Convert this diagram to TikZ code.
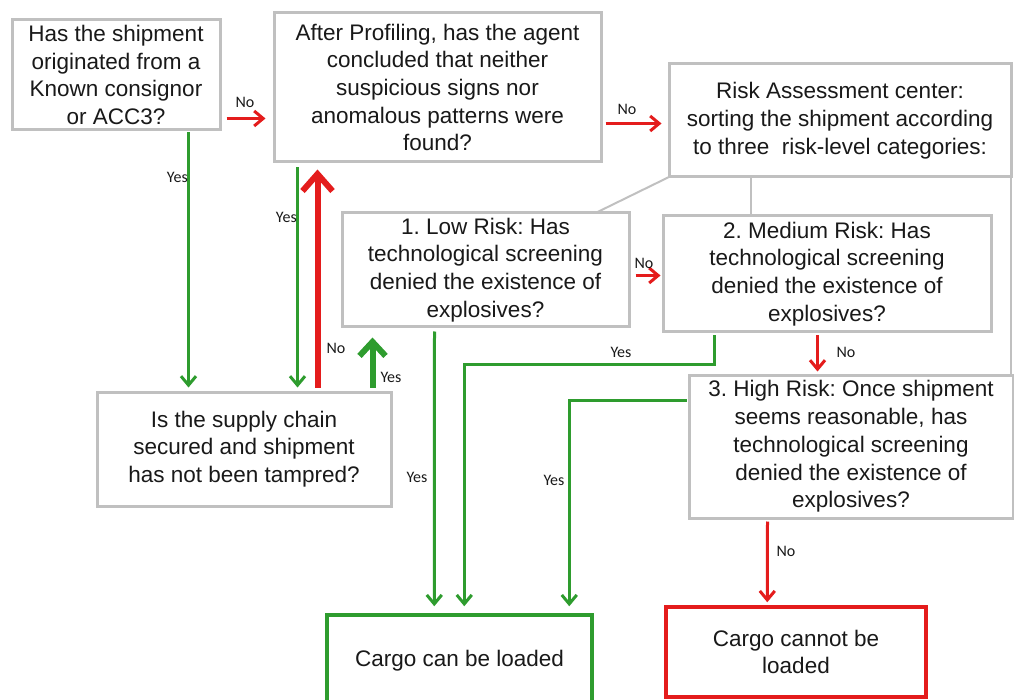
\documentclass[tikz,border=0pt]{standalone}
\usepackage{fontspec}
\setmainfont{Liberation Sans}
\newfontfamily\labfont{Carlito}
\usetikzlibrary{arrows.meta,calc}
\definecolor{boxgray}{RGB}{192,192,192}
\definecolor{flowgreen}{RGB}{46,156,46}
\definecolor{flowred}{RGB}{228,28,28}
\definecolor{txtcol}{RGB}{25,25,25}
\frenchspacing
\begin{document}
\begin{tikzpicture}[x=1pt,y=-1pt,
  box/.style={draw=boxgray, line width=3pt, fill=white, align=center,
    font=\fontsize{22.5}{27.7}\selectfont, text=txtcol, inner sep=0pt},
  endgreen/.style={box, draw=flowgreen, line width=3.5pt},
  endred/.style={box, draw=flowred, line width=3.5pt},
  lab/.style={font=\labfont\fontsize{16}{16}\selectfont, text=txtcol, inner sep=0pt},
  gthin/.style={draw=flowgreen, line width=3pt, -{Straight Barb[length=9pt,width=15pt,line width=3pt]}},
  rthin/.style={draw=flowred, line width=3pt, -{Straight Barb[length=9pt,width=15pt,line width=3pt]}},
  gthick/.style={draw=flowgreen, line width=6pt, -{Straight Barb[length=14pt,width=26pt,line width=6pt]}},
  rthick/.style={draw=flowred, line width=6pt, -{Straight Barb[length=17pt,width=30pt,line width=6pt]}},
  grayline/.style={draw=boxgray, line width=2pt}
]
\useasboundingbox (0,0) rectangle (1014,700);

\node[box, minimum width=342pt, minimum height=113pt] (C) at (840,120.5)
  {Risk Assessment center:\\sorting the shipment according\\to three\ \ risk-level categories:};
\node[box, minimum width=287pt, minimum height=114pt] (D) at (485.5,270)
  {1. Low Risk: Has\\technological screening\\denied the existence of\\explosives?};
\node[box, minimum width=328pt, minimum height=116pt] (E) at (827,274)
  {2. Medium Risk: Has\\technological screening\\denied the existence of\\explosives?};
\node[box, minimum width=324pt, minimum height=143pt] (F) at (851,446.5)
  {3. High Risk: Once shipment\\seems reasonable, has\\technological screening\\denied the existence of\\explosives?};

\draw[grayline] ($(C.south west)+(1.5,-1.5)$) -- ($(D.north west)+(255,1.5)$);
\draw[grayline] ($(C.south west)+(83,0)$) -- ($(E.north west)+(89,0)$);
\draw[grayline] ($(C.south east)+(-1.5,0)$) -- ($(C.south east |- F.north)+(-1.5,0)$);

\node[box, minimum width=208pt, minimum height=110pt] (A) at (116,75)
  {Has the shipment\\originated from a\\Known consignor\\or ACC3?};
\node[box, minimum width=327pt, minimum height=149pt] (B) at (437.5,87.5)
  {After Profiling, has the agent\\concluded that neither\\suspicious signs nor\\anomalous patterns were\\found?};
\node[box, minimum width=294pt, minimum height=114pt] (G) at (244,449)
  {Is the supply chain\\secured and shipment\\has not been tampred?};
\node[endgreen, minimum width=265pt, minimum height=92pt] (H) at (459.5,661)
  {Cargo can be loaded};
\node[endred, minimum width=260pt, minimum height=90pt] (I) at (796,652)
  {Cargo cannot be\\loaded};

% connectors
\draw[rthin] ($(A.south east)+(5,-13)$) -- ($(B.south west)+(-7,-45)$);
\node[lab] (l1) at (245,102) {No};

\draw[gthin] ($(A.south west)+(178,1)$) -- ($(G.north west)+(93,-3)$);
\node[lab, anchor=east] (l2) at (188,177) {Yes};

\draw[gthin] ($(B.south west)+(25,4)$) -- ($(G.north west)+(202,-3)$);
\node[lab, anchor=east] (l3) at (297,217) {Yes};

\draw[rthick] ($(G.north west)+(222,-3)$) -- ($(B.south west)+(45,6)$);
\node[lab] (l4) at (336,348) {No};

\draw[gthick] ($(G.north west)+(277,-3)$) -- ($(D.south west)+(32,9)$);
\node[lab] (l5) at (391,377) {Yes};

\draw[rthin] ($(B.south east)+(3,-40)$) -- ($(C.south west)+(-6,-55)$);
\node[lab] (l6) at (627,109) {No};

\draw[rthin] ($(D.south east)+(5,-53)$) -- ($(E.south west)+(-1,-58)$);
\node[lab] (l7) at (644,263) {No};

\draw[gthin] ($(D.south west)+(94,3)$) -- ($(H.north west)+(109,-7)$);
\node[lab] (l8) at (417,477) {Yes};

\draw[gthin] ($(E.south west)+(53,2)$) -- ++(0,29) -| ($(H.north west)+(139,-7)$);
\node[lab] (l9) at (621,352) {Yes};

\draw[rthin] ($(E.south west)+(156,2)$) -- ($(F.north west)+(130,-2)$);
\node[lab] (l10) at (846,352) {No};

\draw[gthin] ($(F.north west)+(-1,27)$) -| ($(H.north west)+(244,-7)$);
\node[lab] (l11) at (554,480) {Yes};

\draw[rthin] ($(F.south west)+(80,2)$) -- ($(I.north west)+(103,-3)$);
\node[lab] (l12) at (786,551) {No};
\end{tikzpicture}
\end{document}
